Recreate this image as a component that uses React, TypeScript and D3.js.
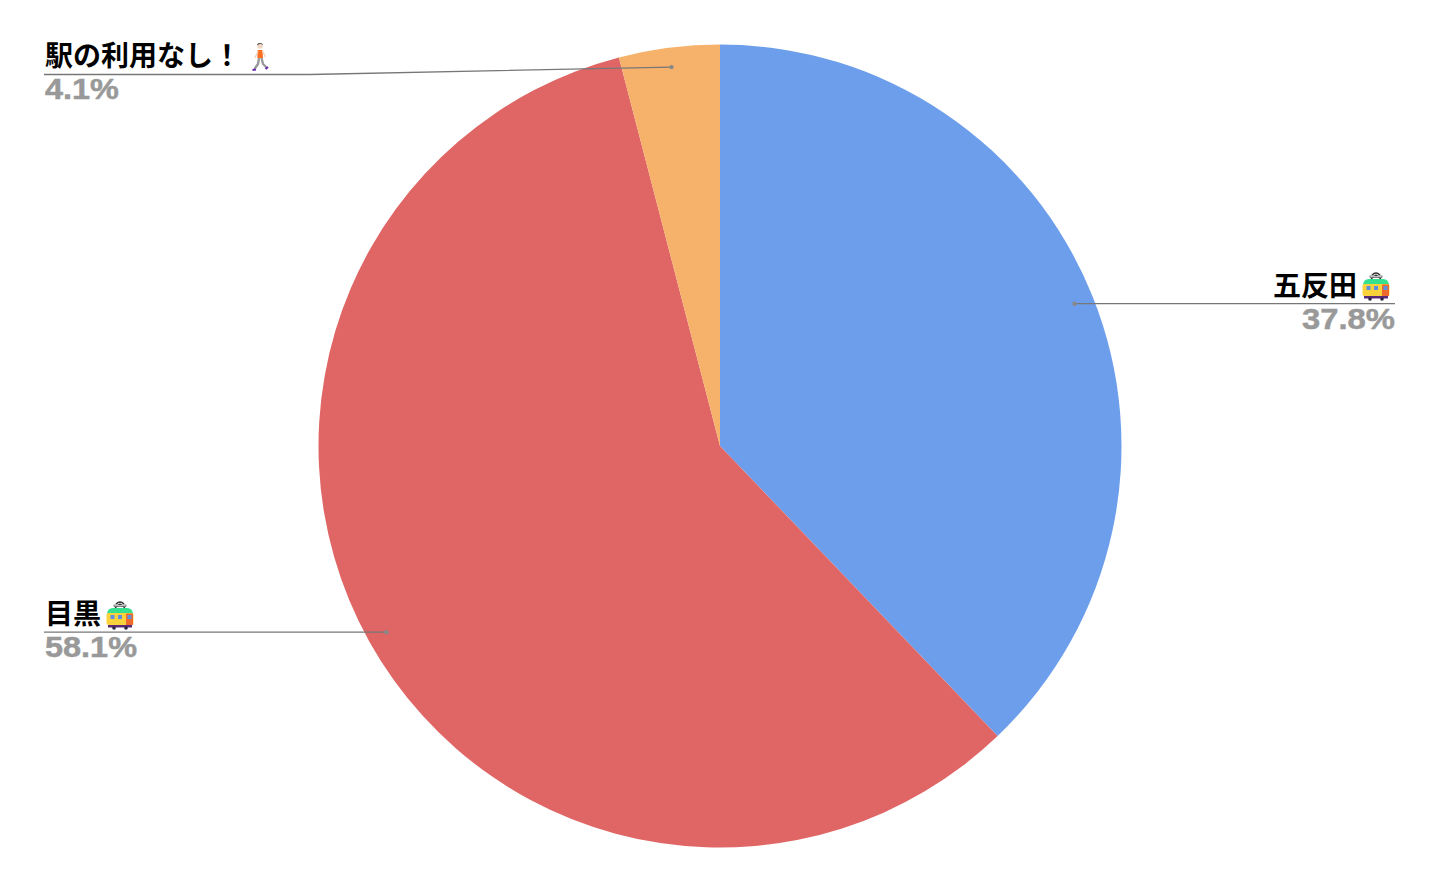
import React from "react";
import * as d3 from "d3";

const labels = ["五反田", "目黒", "駅の利用なし！"];
const values = [37.85, 58.1, 4.05];
const percentLabels = ["37.8%", "58.1%", "4.1%"];
const colors = ["#6d9eeb", "#e06666", "#f6b26b"];

const cx = 720;
const cy = 446;
const radius = 401.5;
const font = "'Noto Sans CJK JP', 'Liberation Sans', sans-serif";
const pctFont = "'Liberation Sans', Arial, sans-serif";

const Tram = ({ x, y }: { x: number; y: number }) => (
  <g transform={`translate(${x},${y})`}>
    <path d="M9 7 L14 3 L19 7" fill="none" stroke="#333" strokeWidth={1.2} />
    <path d="M10 3 Q14 -1 18 3" fill="none" stroke="#333" strokeWidth={1.4} />
    <rect x={8} y={4} width={12} height={1.6} fill="#fff" stroke="#333" strokeWidth={0.6} />
    <path d="M1 14 Q1 7 7 7 L21 7 Q27 7 27 14 Z" fill="#35e08f" />
    <rect x={0.5} y={12} width={27} height={12} rx={2} fill="#fbd13c" />
    <rect x={4.5} y={14} width={4} height={4} fill="#5f8fe0" />
    <rect x={12} y={14} width={4} height={4} fill="#5f8fe0" />
    <rect x={20} y={12.5} width={7} height={11.5} fill="#ee6a2c" />
    <rect x={21.5} y={14} width={4} height={4} fill="#5f8fe0" />
    <rect x={2} y={24} width={24} height={2.5} fill="#5a2a78" />
    <circle cx={8} cy={27} r={1.8} fill="#2a2340" />
    <circle cx={20} cy={27} r={1.8} fill="#2a2340" />
  </g>
);

const Walker = ({ x, y }: { x: number; y: number }) => (
  <g transform={`translate(${x},${y})`}>
    <circle cx={8} cy={3} r={2.8} fill="#f2d6c4" />
    <path d="M5.4 2.6 Q8 -0.8 10.6 2.2 L10.6 1 Q8 -1 5.4 1 Z" fill="#333" />
    <path d="M5.5 7 L10.5 7 L11 15 L5.5 15 Z" fill="#ff6d1f" />
    <path d="M6 8 L3 15 M10.5 8 L13.5 14" stroke="#f2d6c4" strokeWidth={1.5} fill="none" />
    <path d="M7 15 L6 21 L2.5 26 M9.5 15 L11 21 L15 25" stroke="#9a9a9a" strokeWidth={2.4} fill="none" />
    <path d="M0.5 27 L4 26.5 M13.5 26 L16 24" stroke="#6a2bb0" strokeWidth={2.2} fill="none" />
  </g>
);

export default function App() {
  const pie = d3.pie<number>().sort(null).value((d) => d)(values);
  const arc = d3.arc<d3.PieArcDatum<number>>().innerRadius(0).outerRadius(radius);
  const labelArc = d3.arc<d3.PieArcDatum<number>>().innerRadius(382).outerRadius(382);

  const dots = pie.map((d) => {
    const [x, y] = labelArc.centroid(d);
    return [cx + x, cy + y];
  });

  const nameStyle = { fontFamily: font, fontSize: 28, fontWeight: 700, fill: "#000" };
  const pctStyle = {
    fontFamily: pctFont,
    fontSize: 30,
    fontWeight: 700,
    fill: "#999",
    stroke: "#999",
    strokeWidth: 0.5,
    lengthAdjust: "spacingAndGlyphs" as const,
  };
  const leaderStyle = { stroke: "#777", strokeWidth: 1.3, fill: "none" };

  return (
    <svg
      width={1440}
      height={892}
      style={{ position: "absolute", left: 0, top: 0, background: "#fff" }}
    >
      <g transform={`translate(${cx},${cy})`}>
        {pie.map((d, i) => (
          <path key={labels[i]} d={arc(d) ?? ""} fill={colors[i]} />
        ))}
      </g>

      {/* 五反田 */}
      <path d={`M${dots[0][0]} ${dots[0][1]} L1395 ${dots[0][1]}`} {...leaderStyle} />
      <circle cx={dots[0][0]} cy={dots[0][1]} r={2.2} fill="#888" />
      <text x={1357} y={296} textAnchor="end" {...nameStyle}>{labels[0]}</text>
      <Tram x={1362} y={272} />
      <text x={1302} y={328.5} textLength={93} {...pctStyle}>{percentLabels[0]}</text>

      {/* 目黒 */}
      <path d={`M${dots[1][0]} ${dots[1][1]} L44 ${dots[1][1]}`} {...leaderStyle} />
      <circle cx={dots[1][0]} cy={dots[1][1]} r={2.2} fill="#888" />
      <text x={45} y={624} {...nameStyle}>{labels[1]}</text>
      <Tram x={106} y={601} />
      <text x={45} y={657} textLength={92} {...pctStyle}>{percentLabels[1]}</text>

      {/* 駅の利用なし */}
      <path d={`M${dots[2][0]} ${dots[2][1]} L310 74.5 L44 74.5`} {...leaderStyle} />
      <circle cx={dots[2][0]} cy={dots[2][1]} r={2.2} fill="#888" />
      <text x={45} y={66} {...nameStyle}>{labels[2]}</text>
      <Walker x={252} y={43} />
      <text x={45} y={99} textLength={74} {...pctStyle}>{percentLabels[2]}</text>
    </svg>
  );
}
